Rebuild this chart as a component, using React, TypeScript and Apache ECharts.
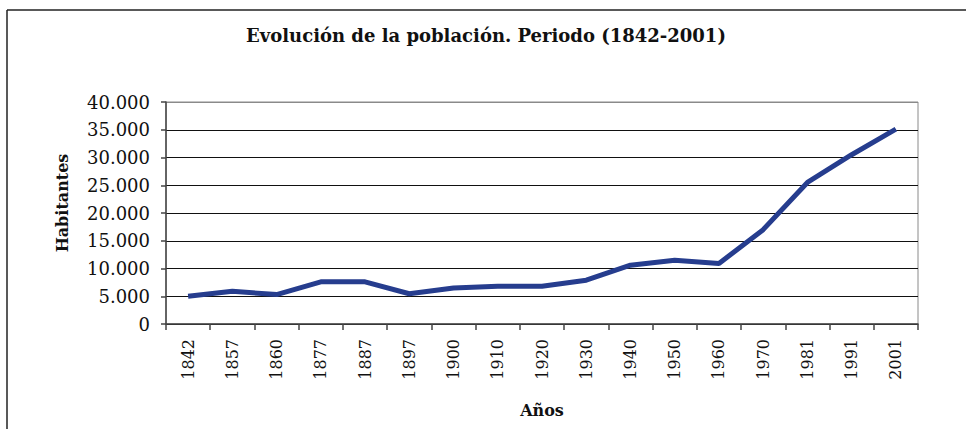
import React, { useEffect, useRef } from "react";
import * as echarts from "echarts";

const years = ["1842", "1857", "1860", "1877", "1887", "1897", "1900", "1910", "1920", "1930", "1940", "1950", "1960", "1970", "1981", "1991", "2001"];
const population = [5000, 5900, 5300, 7600, 7600, 5450, 6500, 6800, 6800, 7900, 10600, 11500, 10900, 17000, 25500, 30500, 35100];
const yTicks = [0, 5000, 10000, 15000, 20000, 25000, 30000, 35000, 40000];

const titleText = "Evolución de la población. Periodo (1842-2001)";
const yName = "Habitantes";
const xName = "Años";

const serif = "DejaVu Serif";

function fmt(v: number): string {
  const s = String(Math.round(v));
  return s.replace(/\B(?=(\d{3})+(?!\d))/g, ".");
}

export default function App() {
  const ref = useRef<HTMLDivElement>(null);
  useEffect(() => {
    if (!ref.current) return;
    const chart = echarts.init(ref.current, null, { renderer: "svg" });
    const splitColors = yTicks.map((_, i) => (i === yTicks.length - 1 ? "#8a8a8a" : "#111"));
    chart.setOption({
      animation: false,
      backgroundColor: "#fff",
      title: {
        text: titleText,
        left: 481,
        textAlign: "center",
        top: 21,
        textStyle: { fontFamily: serif, fontWeight: "bold", fontSize: 18, color: "#111" },
      },
      graphic: [
        { type: "line", shape: { x1: 7, y1: 10, x2: 966, y2: 10 }, style: { stroke: "#222", lineWidth: 1.5 } },
        { type: "line", shape: { x1: 7, y1: 10, x2: 7, y2: 429 }, style: { stroke: "#222", lineWidth: 1.5 } },
      ],
      grid: {
        left: 166,
        right: 48,
        top: 102,
        bottom: 105,
        show: true,
        borderColor: "#8a8a8a",
        borderWidth: 1,
        containLabel: false,
      },
      xAxis: {
        type: "category",
        data: years,
        boundaryGap: true,
        name: xName,
        nameLocation: "middle",
        nameGap: 78,
        nameTextStyle: { fontFamily: serif, fontWeight: "bold", fontSize: 16, color: "#111" },
        axisLine: { lineStyle: { color: "#444", width: 1.5 } },
        axisTick: { show: true, length: 6, lineStyle: { color: "#444", width: 1.5 } },
        axisLabel: {
          rotate: 90,
          fontFamily: serif,
          fontSize: 16,
          color: "#111",
          margin: 15,
          interval: 0,
        },
      },
      yAxis: {
        type: "value",
        min: 0,
        max: 40000,
        interval: 5000,
        name: yName,
        nameLocation: "middle",
        nameGap: 96,
        nameRotate: 90,
        nameTextStyle: { fontFamily: serif, fontWeight: "bold", fontSize: 16, color: "#111", padding: [0, 0, 0, 20] },
        axisLine: { show: true, lineStyle: { color: "#444", width: 1.5 } },
        axisTick: { show: true, length: 5, lineStyle: { color: "#444", width: 1.5 } },
        axisLabel: {
          fontFamily: serif,
          fontSize: 18,
          color: "#111",
          margin: 16,
          formatter: (v: number) => fmt(v),
        },
        splitLine: { show: true, lineStyle: { color: splitColors, width: 1.2 } },
      },
      series: [
        {
          type: "line",
          data: population,
          symbol: "none",
          lineStyle: { color: "#263d8e", width: 5 },
          itemStyle: { color: "#263d8e" },
        },
      ],
    });
    return () => chart.dispose();
  }, []);
  return <div ref={ref} style={{ position: "fixed", left: 0, top: 0, width: 966, height: 429 }} />;
}
